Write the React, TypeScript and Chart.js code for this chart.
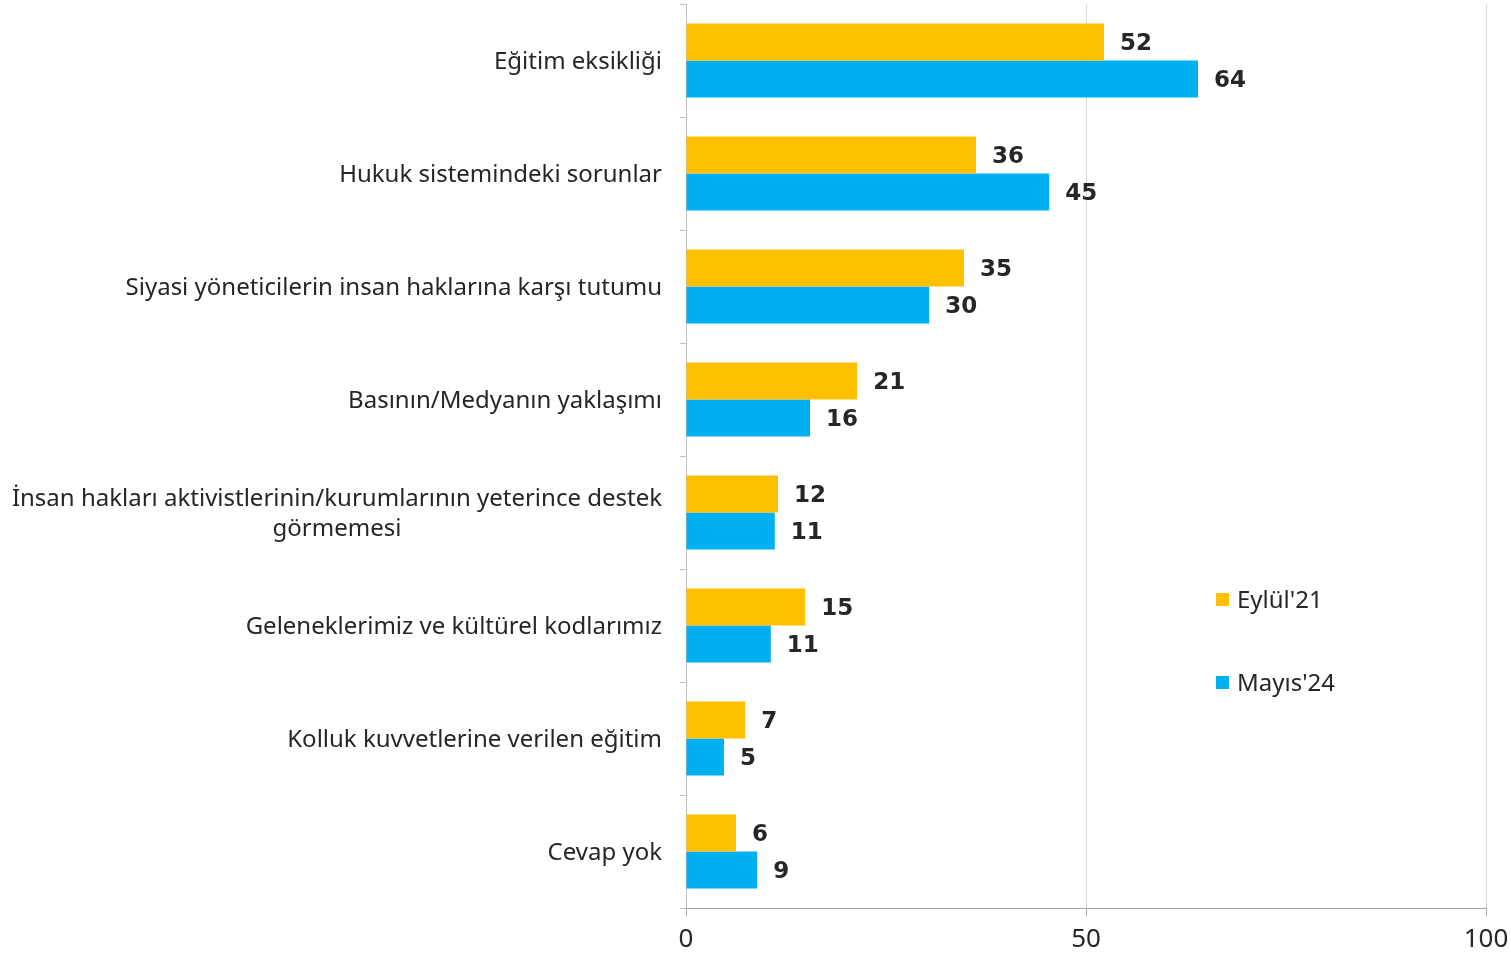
import React, { useEffect, useRef } from "react";
import { Chart, registerables } from "chart.js";

Chart.register(...registerables);

const categories: string[][] = [
  ["Eğitim eksikliği"],
  ["Hukuk sistemindeki sorunlar"],
  ["Siyasi yöneticilerin insan haklarına karşı tutumu"],
  ["Basının/Medyanın yaklaşımı"],
  ["İnsan hakları aktivistlerinin/kurumlarının yeterince destek", "görmemesi"],
  ["Geleneklerimiz ve kültürel kodlarımız"],
  ["Kolluk kuvvetlerine verilen eğitim"],
  ["Cevap yok"],
];
const seriesNames = ["Eylül'21", "Mayıs'24"];
const eylul21 = [52.25, 36.25, 34.75, 21.4, 11.5, 14.9, 7.4, 6.25];
const mayis24 = [64, 45.4, 30.4, 15.5, 11.1, 10.6, 4.75, 8.9];
const seriesColors = ["#FFC000", "#00B0F0"];
const xTickValues = [0, 50, 100];

const FONT = "'Noto Sans', 'Liberation Sans', sans-serif";
const BOLD_FONT = "'DejaVu Sans', 'Liberation Sans', sans-serif";
const TEXT_COLOR = "#262626";

const overlayPlugin = {
  id: "overlay",
  afterDraw(chart: any) {
    const ctx = chart.ctx;
    const yScale = chart.scales.y;
    const area = chart.chartArea;
    ctx.save();
    // category labels
    ctx.font = `24px ${FONT}`;
    ctx.fillStyle = TEXT_COLOR;
    ctx.textBaseline = "middle";
    const rightX = area.left - 24;
    const lineH = 30;
    categories.forEach((lines, i) => {
      const yc = yScale.getPixelForValue(i) + 2;
      const startY = yc - ((lines.length - 1) * lineH) / 2;
      if (lines.length === 1) {
        ctx.textAlign = "right";
        ctx.fillText(lines[0], rightX, yc);
      } else {
        const maxW = Math.max(...lines.map((l) => ctx.measureText(l).width));
        ctx.textAlign = "center";
        lines.forEach((l, j) => ctx.fillText(l, rightX - maxW / 2, startY + j * lineH));
      }
    });
    // data labels
    ctx.font = `bold 23px ${BOLD_FONT}`;
    ctx.textAlign = "left";
    chart.data.datasets.forEach((ds: any, di: number) => {
      const meta = chart.getDatasetMeta(di);
      meta.data.forEach((bar: any, i: number) => {
        ctx.fillText(String(Math.round(ds.data[i])), bar.x + 16, bar.y + 2);
      });
    });
    // legend
    ctx.font = `24px ${FONT}`;
    const legendYs = [600, 683];
    seriesNames.forEach((name, i) => {
      ctx.fillStyle = seriesColors[i];
      ctx.fillRect(1216, legendYs[i] - 7, 13, 13);
      ctx.fillStyle = TEXT_COLOR;
      ctx.fillText(name, 1237, legendYs[i] + 1);
    });
    ctx.restore();
  },
};

export default function App() {
  const canvasRef = useRef<HTMLCanvasElement | null>(null);

  useEffect(() => {
    if (!canvasRef.current) return;
    const chart = new Chart(canvasRef.current, {
      type: "bar",
      data: {
        labels: categories.map((c) => c.join(" ")),
        datasets: [
          {
            label: seriesNames[0],
            data: eylul21,
            backgroundColor: seriesColors[0],
            categoryPercentage: 0.655,
            barPercentage: 1,
          },
          {
            label: seriesNames[1],
            data: mayis24,
            backgroundColor: seriesColors[1],
            categoryPercentage: 0.655,
            barPercentage: 1,
          },
        ],
      },
      options: {
        indexAxis: "y",
        responsive: false,
        animation: false,
        layout: { padding: { top: 4, right: 25, bottom: 0, left: 0 } },
        plugins: {
          legend: { display: false },
          tooltip: { enabled: false },
        },
        scales: {
          x: {
            min: 0,
            max: 100,
            afterBuildTicks: (scale: any) => {
              scale.ticks = xTickValues.map((v) => ({ value: v }));
            },
            afterFit: (scale: any) => {
              scale.height = 46;
              scale.paddingLeft = 0;
              scale.paddingRight = 0;
            },
            grid: {
              color: "#d9d9d9",
              drawTicks: true,
              tickLength: 8,
              tickColor: "#a6a6a6",
            },
            border: { color: "#a6a6a6" },
            ticks: {
              font: { family: FONT, size: 26 },
              color: TEXT_COLOR,
              padding: 8,
              maxRotation: 0,
            },
          },
          y: {
            afterFit: (scale: any) => {
              scale.width = 686;
            },
            grid: {
              offset: true,
              drawOnChartArea: false,
              drawTicks: true,
              tickLength: 6,
              color: "#bfbfbf",
            },
            border: { color: "#bfbfbf" },
            ticks: { display: false },
          },
        },
      },
      plugins: [overlayPlugin],
    } as any);
    return () => chart.destroy();
  }, []);

  return (
    <div style={{ position: "absolute", left: 0, top: 0, width: 1511, height: 954, background: "#fff" }}>
      <canvas ref={canvasRef} width={1511} height={954} style={{ display: "block" }} />
    </div>
  );
}
